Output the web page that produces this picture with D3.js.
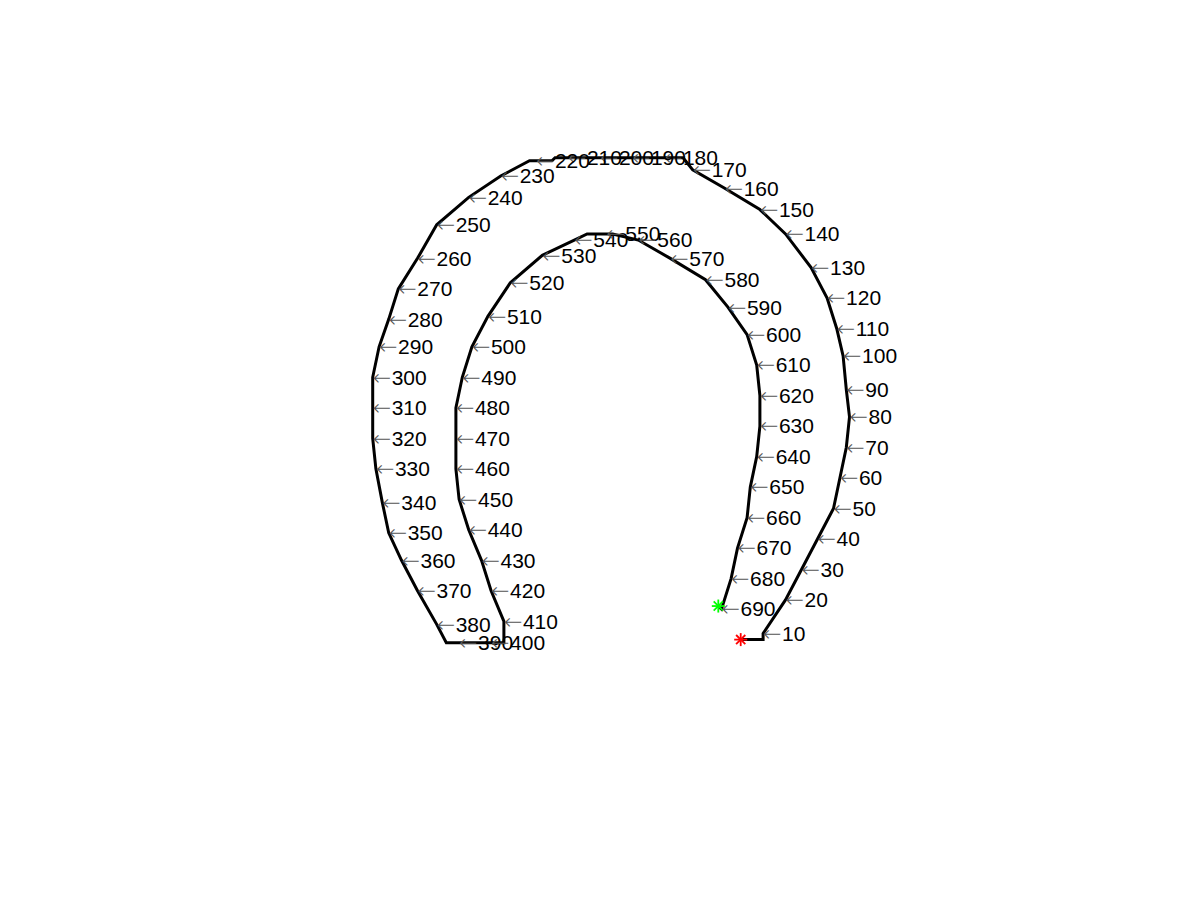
<!DOCTYPE html>
<html>
<head>
<meta charset="utf-8">
<script src="https://cdn.jsdelivr.net/npm/d3@7"></script>
<style>
  html, body { margin: 0; padding: 0; background: #fff; }
  svg { display: block; }
</style>
</head>
<body>
<svg id="chart" width="1200" height="900"></svg>
<script>
// Boundary trace: point index along the trace, column and row (image grid units)
const traceIndex = [1, 8, 10, 20, 30, 40, 50, 60, 70, 80, 90, 100, 110, 120, 130, 140, 150, 160, 170, 174,
  180, 190, 200, 210, 214, 215, 220, 222, 230, 240, 250, 260, 270, 280, 290, 300, 310, 320, 330, 340,
  350, 360, 370, 380, 386, 390, 400, 404, 410, 420, 430, 440, 450, 460, 470, 480, 490, 500, 510, 520,
  530, 540, 544, 550, 552, 560, 570, 580, 590, 600, 610, 620, 630, 640, 650, 660, 670, 680, 690, 692];
const traceCol = [135, 142, 142, 149, 154, 159, 164, 166, 168, 169, 168, 167, 165, 162, 157, 149, 141, 130, 120, 117,
  111, 101, 91, 81, 77, 76, 71, 69, 60, 50, 40, 34, 28, 25, 22, 20, 20, 20, 21, 23,
  25, 29, 34, 40, 43, 47, 57, 61, 61, 57, 54, 50, 47, 46, 46, 46, 48, 51, 56, 63,
  73, 83, 87, 93, 95, 103, 113, 124, 131, 137, 140, 141, 141, 140, 138, 137, 134, 132, 129, 128];
const traceRow = [178, 178, 176, 165, 155, 145, 135, 125, 115, 105, 96, 85, 76, 66, 56, 45, 37, 30, 24, 20,
  20, 20, 20, 20, 20, 21, 21, 21, 26, 33, 42, 53, 63, 73, 82, 92, 102, 112, 122, 133,
  143, 152, 162, 173, 179, 179, 179, 179, 172, 162, 152, 142, 132, 122, 112, 102, 92, 82, 72, 61,
  52, 47, 45, 45, 45, 47, 53, 60, 69, 78, 88, 98, 108, 118, 128, 138, 148, 158, 168, 167];
const labelStep = 10;

const pts = traceIndex.map((k, i) => ({ k, c: traceCol[i], r: traceRow[i] }));

const svg = d3.select('#chart');
// image-style axes (row increases downward), axis off
const x = d3.scaleLinear().domain([0, 200]).range([308.7, 948.7]);
const y = d3.scaleLinear().domain([0, 200]).range([96.7, 706.7]);

const line = d3.line().x(d => x(d.c)).y(d => y(d.r));
svg.append('path')
  .datum(pts)
  .attr('d', line)
  .attr('fill', 'none')
  .attr('stroke', '#000')
  .attr('stroke-width', 3)
  .attr('stroke-linejoin', 'miter');

function star(p, color) {
  const g = svg.append('g').attr('transform', `translate(${x(p.c)},${y(p.r)})`)
    .attr('stroke', color).attr('stroke-width', 1.8);
  const s = 6.5, d = 4.6;
  g.append('line').attr('x1', -s).attr('x2', s).attr('y1', 0).attr('y2', 0);
  g.append('line').attr('x1', 0).attr('x2', 0).attr('y1', -s).attr('y2', s);
  g.append('line').attr('x1', -d).attr('x2', d).attr('y1', -d).attr('y2', d);
  g.append('line').attr('x1', -d).attr('x2', d).attr('y1', d).attr('y2', -d);
}
star(pts[0], '#ff0000');
star(pts[pts.length - 1], '#00ff00');

const labels = svg.append('g')
  .selectAll('text')
  .data(pts.filter(p => p.k % labelStep === 0))
  .join('text')
  .attr('x', d => x(d.c))
  .attr('y', d => y(d.r))
  .attr('dy', '0.35em')
  .attr('font-family', '"Liberation Sans", Arial, sans-serif')
  .attr('font-size', 21)
  .attr('fill', '#000');
labels.append('tspan')
  .attr('font-family', '"DejaVu Sans"')
  .attr('font-weight', 200)
  .attr('font-size', 22)
  .attr('fill', '#555')
  .text('\u2190');
labels.append('tspan')
  .attr('x', d => x(d.c) + 19)
  .text(d => d.k);
</script>
</body>
</html>
